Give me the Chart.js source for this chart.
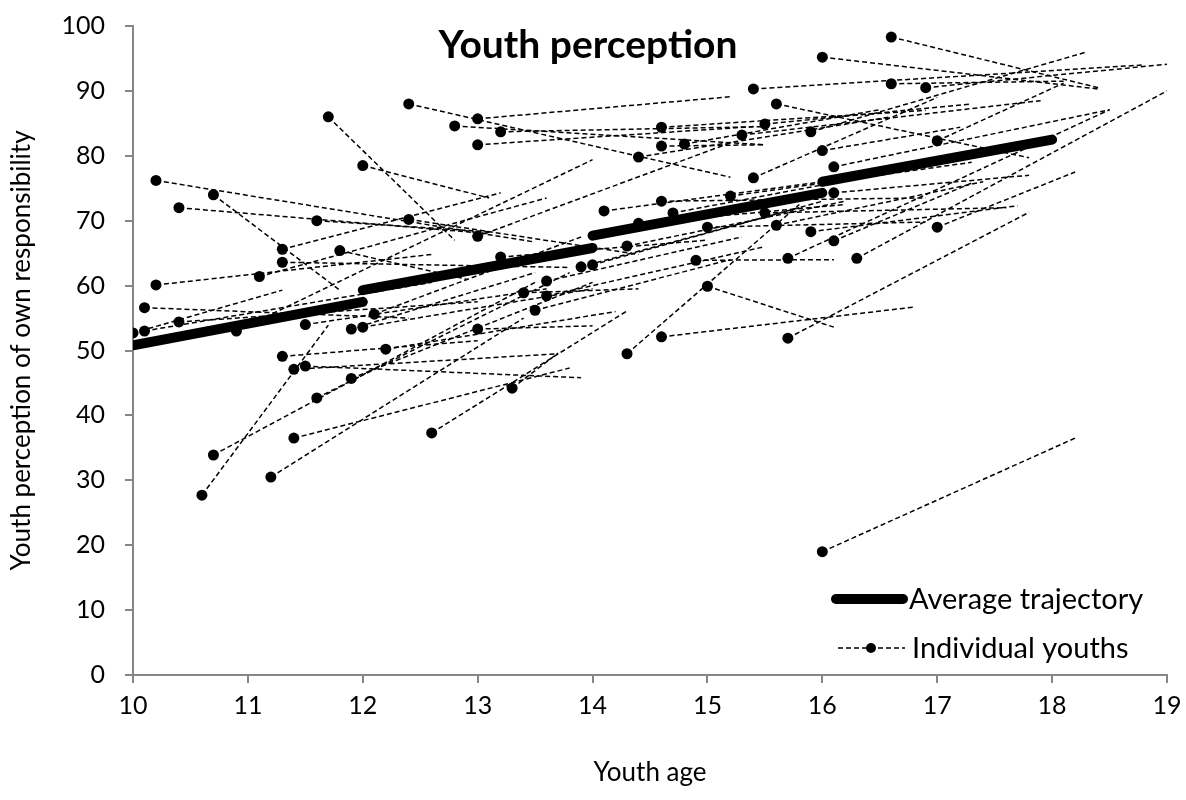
<!DOCTYPE html>
<html>
<head>
<meta charset="utf-8">
<script src="https://cdn.jsdelivr.net/npm/chart.js@4.4.1/dist/chart.umd.min.js"></script>
<style>
  body { margin: 0; background: #fff; }
  #wrap { width: 1186px; height: 800px; }
</style>
</head>
<body>
<div id="wrap"><canvas id="chart-youth" width="1186" height="800"></canvas></div>
<script>
// average trajectory, four two-year segments
var avgAge   = [10, 12, 12, 14, 14, 16, 16, 18];
var avgScore = [50.8, 57.5, 59.3, 65.8, 67.7, 74.3, 76.0, 82.5];

// individual youths: first measurement (dot) and second measurement (line end)
var startAge   = [10.0, 10.1, 10.1, 10.2, 10.2, 10.4, 10.4, 10.6, 10.7, 10.7,
                  10.9, 11.1, 11.2, 11.3, 11.3, 11.3, 11.4, 11.4, 11.5, 11.5,
                  11.6, 11.6, 11.7, 11.8, 11.9, 11.9, 12.0, 12.0, 12.1, 12.2,
                  12.4, 12.4, 12.6, 12.8, 13.0, 13.0, 13.0, 13.0, 13.2, 13.2,
                  13.3, 13.4, 13.5, 13.6, 13.6, 13.9, 14.0, 14.1, 14.3, 14.3,
                  14.4, 14.4, 14.6, 14.6, 14.6, 14.6, 14.7, 14.8, 14.9, 15.0,
                  15.0, 15.2, 15.3, 15.4, 15.4, 15.5, 15.5, 15.6, 15.6, 15.7,
                  15.7, 15.9, 15.9, 16.0, 16.0, 16.0, 16.1, 16.1, 16.1, 16.3,
                  16.6, 16.6, 16.9, 17.0, 17.0];
var startScore = [52.7, 56.6, 53.0, 76.2, 60.1, 72.0, 54.4, 27.7, 74.0, 33.9,
                  53.0, 61.4, 30.5, 65.6, 63.6, 49.1, 47.1, 36.5, 54.0, 47.6,
                  70.0, 42.7, 86.0, 65.4, 53.3, 45.7, 78.5, 53.6, 55.6, 50.2,
                  88.0, 70.2, 37.3, 84.6, 85.7, 81.7, 67.6, 53.3, 83.7, 64.4,
                  44.2, 58.9, 56.2, 60.7, 58.4, 62.9, 63.2, 71.5, 66.1, 49.5,
                  79.8, 69.6, 84.4, 81.5, 73.0, 52.1, 71.2, 81.8, 63.9, 69.0,
                  59.9, 73.8, 83.2, 90.3, 76.6, 84.9, 71.2, 88.0, 69.3, 64.2,
                  51.9, 83.7, 68.3, 95.2, 80.8, 19.0, 78.3, 74.3, 66.9, 64.2,
                  98.3, 91.1, 90.5, 82.3, 69.0];
var endAge     = [11.3, 12.4, 12.6, 13.5, 12.6, 13.1, 13.0, 11.7, 11.8, 13.5,
                  14.0, 13.6, 13.4, 13.2, 13.8, 13.0, 13.7, 13.8, 13.6, 13.9,
                  13.1, 13.8, 12.8, 12.9, 13.5, 14.0, 13.1, 14.0, 13.9, 14.2,
                  15.2, 14.4, 14.3, 15.5, 15.2, 15.4, 15.2, 14.0, 15.5, 15.0,
                  13.7, 14.4, 15.2, 15.3, 15.5, 15.8, 16.0, 16.0, 16.2, 15.8,
                  16.6, 16.2, 16.9, 15.5, 16.9, 16.8, 16.9, 16.5, 16.1, 16.9,
                  16.1, 17.3, 17.9, 18.8, 17.0, 17.3, 17.6, 17.8, 17.4, 18.5,
                  17.8, 18.3, 17.7, 18.4, 17.2, 18.2, 18.5, 17.8, 17.3, 19.0,
                  18.4, 18.1, 19.0, 18.1, 18.2];
var endScore   = [59.3, 55.0, 60.5, 66.7, 64.8, 68.0, 57.5, 53.9, 59.3, 60.5,
                  79.4, 73.5, 55.0, 74.3, 62.8, 51.5, 49.5, 47.3, 59.5, 45.8,
                  68.3, 62.0, 67.0, 61.0, 62.0, 60.5, 73.5, 59.5, 67.5, 56.0,
                  76.7, 64.8, 56.1, 81.7, 89.1, 84.5, 82.0, 53.8, 84.5, 67.0,
                  49.6, 59.5, 64.0, 67.5, 66.0, 72.0, 73.0, 76.0, 73.0, 72.5,
                  86.0, 72.5, 87.0, 81.7, 73.5, 56.7, 78.5, 87.1, 64.0, 69.8,
                  53.6, 79.0, 88.5, 94.0, 89.0, 88.0, 72.0, 79.7, 76.0, 87.1,
                  71.3, 96.0, 72.3, 90.3, 84.4, 36.5, 87.1, 77.0, 75.8, 90.0,
                  90.5, 91.5, 94.1, 91.2, 77.5];

var xTicks = [10, 11, 12, 13, 14, 15, 16, 17, 18, 19];
var yTicks = [0, 10, 20, 30, 40, 50, 60, 70, 80, 90, 100];

var FONT = "Lato, 'Open Sans', sans-serif";
var axisGray = '#868686';

var datasets = [];
for (var i = 0; i < avgAge.length; i += 2) {
  datasets.push({
    label: 'Average trajectory',
    data: [{x: avgAge[i], y: avgScore[i]}, {x: avgAge[i + 1], y: avgScore[i + 1]}],
    borderColor: '#000',
    borderWidth: 10,
    borderCapStyle: 'round',
    pointRadius: 0,
    order: 0
  });
}
for (var j = 0; j < startAge.length; j++) {
  datasets.push({
    label: 'Individual youths',
    data: [{x: startAge[j], y: startScore[j]}, {x: endAge[j], y: endScore[j]}],
    borderColor: '#000',
    backgroundColor: '#000',
    borderWidth: 1.5,
    borderDash: [5, 3],
    pointRadius: [5.5, 0],
    pointBorderWidth: 0,
    pointBackgroundColor: '#000',
    order: 1
  });
}

// title and legend sit inside the plot, so draw them by hand
var overlay = {
  id: 'overlay',
  afterDraw: function (chart) {
    var ctx = chart.ctx;
    ctx.save();
    ctx.fillStyle = '#000';
    ctx.textBaseline = 'middle';
    ctx.font = "bold 39px " + FONT;
    ctx.textAlign = 'center';
    ctx.fillText('Youth perception', 588, 45);

    ctx.font = "29px " + FONT;
    ctx.textAlign = 'left';
    ctx.strokeStyle = '#000';
    ctx.lineCap = 'round';
    ctx.lineWidth = 10;
    ctx.beginPath();
    ctx.moveTo(836, 599);
    ctx.lineTo(903, 599);
    ctx.stroke();
    ctx.fillText('Average trajectory', 909, 600);

    ctx.lineCap = 'butt';
    ctx.lineWidth = 1.5;
    ctx.setLineDash([5, 3]);
    ctx.beginPath();
    ctx.moveTo(838, 648);
    ctx.lineTo(905, 648);
    ctx.stroke();
    ctx.setLineDash([]);
    ctx.beginPath();
    ctx.arc(871, 648, 5, 0, Math.PI * 2);
    ctx.fill();
    ctx.fillText('Individual youths', 912, 649);
    ctx.restore();
  }
};

var ctx = document.getElementById('chart-youth').getContext('2d');
var youthChart = new Chart(ctx, {
  type: 'line',
  data: { datasets: datasets },
  options: {
    responsive: false,
    animation: false,
    layout: { padding: { top: 26, right: 19, left: 0, bottom: 0 } },
    plugins: {
      legend: { display: false },
      tooltip: { enabled: false }
    },
    scales: {
      x: {
        type: 'linear',
        min: 10,
        max: 19,
        afterBuildTicks: function (axis) {
          axis.ticks = xTicks.map(function (v) { return {value: v}; });
        },
        afterFit: function (axis) {
          axis.height = 125;
          axis.paddingLeft = 0;
          axis.paddingRight = 0;
        },
        border: { color: axisGray, width: 2 },
        grid: { drawOnChartArea: false, color: axisGray, lineWidth: 2, tickLength: 8 },
        ticks: { color: '#000', font: { family: FONT, size: 25 }, padding: 8, maxRotation: 0 },
        title: {
          display: true,
          text: 'Youth age',
          color: '#000',
          font: { family: FONT, size: 26 },
          padding: { top: 0, bottom: 12 }
        }
      },
      y: {
        type: 'linear',
        min: 0,
        max: 100,
        afterBuildTicks: function (axis) {
          axis.ticks = yTicks.map(function (v) { return {value: v}; });
        },
        afterFit: function (axis) {
          axis.width = 133;
          axis.paddingTop = 0;
          axis.paddingBottom = 0;
        },
        border: { color: axisGray, width: 2 },
        grid: { drawOnChartArea: false, color: axisGray, lineWidth: 2, tickLength: 8 },
        ticks: { color: '#000', font: { family: FONT, size: 25 }, padding: 20 },
        title: {
          display: true,
          text: 'Youth perception of own responsibility',
          color: '#000',
          font: { family: FONT, size: 26 },
          padding: { top: 6, bottom: 0 }
        }
      }
    }
  },
  plugins: [overlay]
});
</script>
</body>
</html>
